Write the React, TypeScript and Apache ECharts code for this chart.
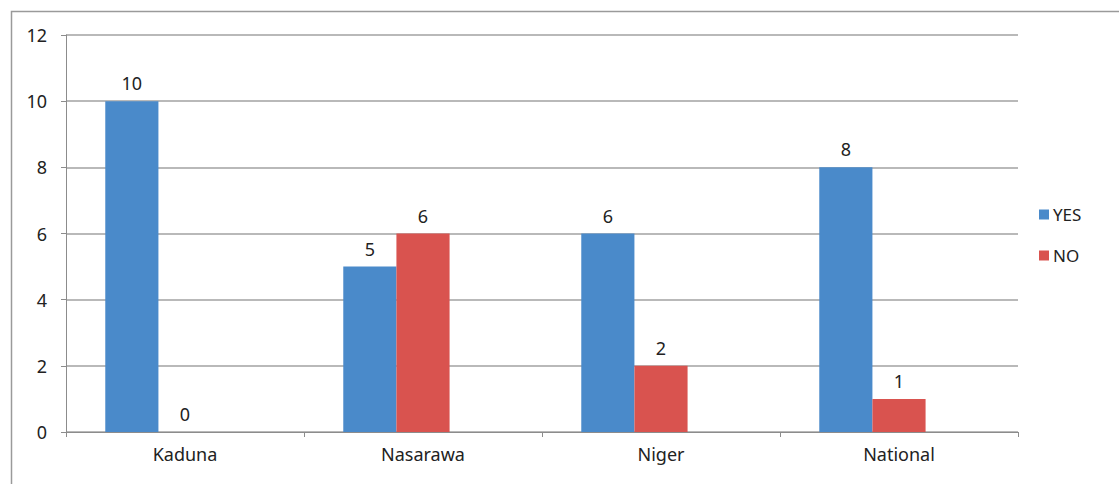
import React, { useEffect, useRef } from "react";
import * as echarts from "echarts";

// Regions surveyed and the count of YES / NO answers in each
const categories = ["Kaduna", "Nasarawa", "Niger", "National"];
const yesValues = [10, 5, 6, 8];
const noValues = [0, 6, 2, 1];
// Third clustered slot kept empty, as in the source workbook
const emptySlot: (number | null)[] = [null, null, null, null];
const yTicks = [0, 2, 4, 6, 8, 10, 12];

const FONT = "'Noto Sans', 'DejaVu Sans', sans-serif";
const TEXT = "#222";

export default function App() {
  const ref = useRef<HTMLDivElement>(null);

  useEffect(() => {
    if (!ref.current) return;
    const chart = echarts.init(ref.current, undefined, { renderer: "svg" });

    const labelStyle = {
      show: true,
      position: "top" as const,
      distance: 9,
      color: TEXT,
      fontSize: 18,
      fontFamily: FONT,
    };

    chart.setOption({
      animation: false,
      backgroundColor: "#fff",
      grid: { left: 66, right: 101, top: 35, bottom: 52, containLabel: false },
      legend: {
        orient: "vertical",
        left: 1034,
        top: 201,
        itemWidth: 10,
        itemHeight: 10,
        itemGap: 24,
        icon: "rect",
        data: ["YES", "NO"],
        textStyle: { color: TEXT, fontSize: 17, fontFamily: FONT, padding: [0, 0, 0, -1] },
      },
      xAxis: {
        type: "category",
        data: categories,
        axisLine: { show: true, lineStyle: { color: "#8c8c8c", width: 1 } },
        axisTick: { show: true, length: 5, lineStyle: { color: "#8c8c8c" } },
        axisLabel: { color: TEXT, fontSize: 18, fontFamily: FONT, margin: 13 },
      },
      yAxis: {
        type: "value",
        min: 0,
        max: yTicks[yTicks.length - 1],
        interval: yTicks[1] - yTicks[0],
        axisLine: { show: true, lineStyle: { color: "#8c8c8c", width: 1 } },
        axisTick: { show: true, length: 5, lineStyle: { color: "#8c8c8c" } },
        axisLabel: { color: TEXT, fontSize: 18, fontFamily: FONT, margin: 19 },
        splitLine: {
          show: true,
          lineStyle: { color: "#a2a2a2", width: 1.6 },
        },
      },
      series: [
        {
          name: "YES",
          type: "bar",
          data: yesValues,
          barGap: "0%",
          barCategoryGap: "33%",
          itemStyle: { color: "#4A8ACA" },
          label: labelStyle,
        },
        {
          name: "NO",
          type: "bar",
          data: noValues,
          itemStyle: { color: "#D9534F" },
          label: labelStyle,
        },
        {
          name: "",
          type: "bar",
          data: emptySlot,
          itemStyle: { color: "transparent" },
        },
      ],
      graphic: [
        {
          type: "rect",
          left: 9,
          top: 9,
          shape: { x: 0, y: 0, width: 1200, height: 600 },
          style: { fill: "none", stroke: "#9a9a9a", lineWidth: 1.5 },
          silent: true,
          z: -1,
        },
      ],
    });

    return () => chart.dispose();
  }, []);

  return (
    <div
      ref={ref}
      style={{ position: "fixed", left: 0, top: 0, width: 1119, height: 484 }}
    />
  );
}
